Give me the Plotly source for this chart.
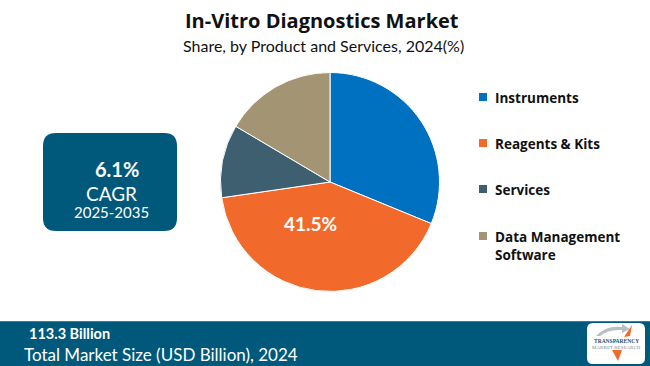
import plotly.graph_objects as go

labels = ["Instruments", "Reagents & Kits", "Services", "Data Management<br>Software"]
shares = [31.2, 41.5, 10.8, 16.5]
colors = ["#0070C0", "#F26A2B", "#3E5F6F", "#A39473"]
shown_label_index = 1

title = "In-Vitro Diagnostics Market"
subtitle = "Share, by Product and Services, 2024(%)"
cagr_value = "6.1%"
cagr_label = "CAGR"
cagr_period = "2025-2035"
market_size = "113.3 Billion"
market_label = "Total Market Size (USD Billion), 2024"

W, H = 650, 366
TEAL = "#00587A"

fig = go.Figure()
fig.add_trace(go.Pie(
    labels=labels, values=shares, sort=False, direction="clockwise", rotation=0,
    marker=dict(colors=colors, line=dict(color="white", width=1)),
    textinfo="none",
    domain=dict(x=[220.5 / W, 439.5 / W], y=[(H - 291.5) / H, (H - 72.5) / H]),
    showlegend=False, hoverinfo="label+percent",
))

shapes = []
annotations = []

fig.update_layout(
    xaxis=dict(range=[0, W], visible=False, fixedrange=True, domain=[0, 1]),
    yaxis=dict(range=[H, 0], visible=False, fixedrange=True, domain=[0, 1]),
)
fig.add_trace(go.Scatter(x=[0, W], y=[0, H], mode="markers", marker=dict(opacity=0),
                         showlegend=False, hoverinfo="skip"))

# footer band
shapes.append(dict(type="rect", xref="x", yref="y", x0=0, x1=W, y0=321, y1=H,
                   fillcolor=TEAL, line=dict(width=0), layer="below"))
shapes.append(dict(type="line", xref="x", yref="y", x0=0, x1=W, y0=321.5, y1=321.5,
                   line=dict(color="#3C7E99", width=1)))

def rrect(x0, y0, x1, y1, r):
    return (f"M {x0+r},{y0} L {x1-r},{y0} Q {x1},{y0} {x1},{y0+r} L {x1},{y1-r} "
            f"Q {x1},{y1} {x1-r},{y1} L {x0+r},{y1} Q {x0},{y1} {x0},{y1-r} L {x0},{y0+r} "
            f"Q {x0},{y0} {x0+r},{y0} Z")

shapes.append(dict(type="path", xref="x", yref="y", path=rrect(43, 133, 177, 231, 13),
                   fillcolor=TEAL, line=dict(width=0)))
# logo box
shapes.append(dict(type="path", xref="x", yref="y", path=rrect(587, 323, 645, 364, 6),
                   fillcolor="white", line=dict(width=0)))
shapes.append(dict(type="path", xref="x", yref="y",
                   path="M 596,336 Q 606,325 622,327 L 622,324 L 630,329 L 622,333 L 622,330 Q 608,329 600,336 Z",
                   fillcolor="#B8BEC4", line=dict(width=0)))
shapes.append(dict(type="path", xref="x", yref="y",
                   path="M 624,337 L 632,325 L 630,336 Z",
                   fillcolor="#F26A2B", line=dict(width=0)))
shapes.append(dict(type="path", xref="x", yref="y",
                   path="M 612,350 L 618,361 L 622,350 Z",
                   fillcolor="#F26A2B", line=dict(width=0)))

def ann(x, y, text, size, family="Lato", color="white", xanchor="center", yanchor="middle"):
    return dict(x=x, y=y, xref="x", yref="y", text=text, showarrow=False,
                xanchor=xanchor, yanchor=yanchor,
                font=dict(family=family, size=size, color=color))

annotations += [
    ann(322, 20, f"<b>{title}</b>", 20, "Open Sans", "#111111"),
    ann(323, 45, subtitle, 16, "Lato", "#111111"),
    ann(117, 169, f"<b>{cagr_value}</b>", 20),
    ann(111, 193, cagr_label, 19),
    ann(111, 212, cagr_period, 15),
    ann(27, 333, f"<b>{market_size}</b>", 14.5, xanchor="left"),
    ann(22, 354, market_label, 17, xanchor="left"),
    ann(616, 341, "<b>TRANSPARENCY</b>", 5.5, "Liberation Sans Narrow", "#1E4E6E"),
    ann(616, 347, "MARKET RESEARCH", 5, "Liberation Sans Narrow", "#7A8A96"),
    ann(310, 223, f"<b>{shares[shown_label_index]}%</b>", 19),
]

# legend
leg_y = [97, 143, 189, 236]
for lab, col, yy in zip(labels, colors, leg_y):
    shapes.append(dict(type="rect", xref="x", yref="y", x0=479, x1=487, y0=yy - 4, y1=yy + 4,
                       fillcolor=col, line=dict(width=0)))
    annotations.append(dict(x=493, y=yy - 10, xref="x", yref="y", xanchor="left",
                            yanchor="top", align="left", text=f"<b>{lab}</b>", showarrow=False,
                            font=dict(family="Open Sans", size=13.5, color="#111111")))

fig.update_layout(
    width=W, height=H, margin=dict(l=0, r=0, t=0, b=0),
    paper_bgcolor="white", plot_bgcolor="rgba(0,0,0,0)",
    shapes=shapes, annotations=annotations,
)
fig.write_html("out.html", config={"displayModeBar": False},
               post_script="document.body.style.margin='0';")
